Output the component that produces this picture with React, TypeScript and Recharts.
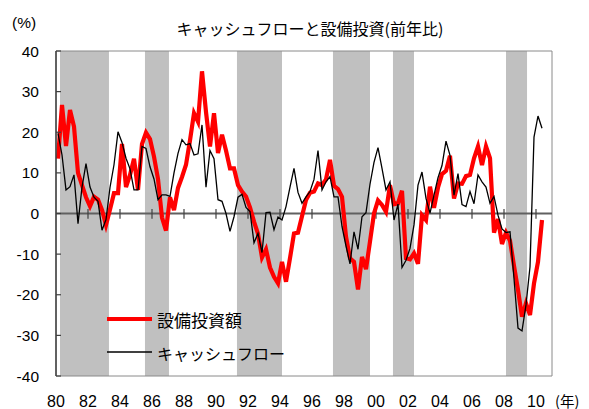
import React from "react";
import { LineChart, Line, XAxis, YAxis, ReferenceArea, ReferenceLine } from "recharts";

const startYear = 1980;

// 設備投資額 (前年比, %), quarterly from 1980Q1
const capex = [
  13.5, 26.7, 16.6, 25.5, 21.4, 10, 7, 4, 1.8, 4.1,
  3.4, 0.9, -2.8, 1, 5, 5, 17.1, 6.5, 9.5, 13.5,
  5.8, 17.1, 19.9, 18.3, 14, 8.5, -1, -4.2, 4, 0.8,
  6.3, 9, 12, 18, 24.7, 22.6, 35, 25, 16.5, 24.7,
  14.9, 19.4, 15.5, 11.1, 11.1, 7, 5.4, 4.2, 1.5, -2,
  -5, -10.8, -8.8, -13.3, -15.6, -17.2, -11.9, -16.8, -11, -4.9,
  -4.7, -0.7, 3.3, 5.1, 5.4, 7.4, 7, 8.4, 13.2, 6.8,
  6, 4.1, -5.7, -11, -11.9, -18.7, -10.7, -13.7, -6.9, 0,
  3.2, 2.1, 0.4, 7, 2.3, 2.5, 5.6, -11, -11.3, -9.8,
  -12.4, -0.4, -1.6, 6.6, 1.4, 6.4, 9.7, 10.5, 14.2, 3.7,
  7.4, 7.3, 9.2, 9.5, 13.6, 16.5, 11.9, 16.5, 13.6, -4.7,
  -1.4, -7.5, -4.7, -6.7, -12.9, -18.8, -25.4, -22.1, -25, -17.2,
  -11.9, -1.6,
];

// キャッシュフロー (前年比, %)
const cashflow = [
  19.7, 14.4, 5.8, 6.6, 9.5, -2.5, 6.5, 12.3, 6.5, 4,
  3, -4.1, -1.5, 6.4, 12, 20.1, 17.5, 13.6, 11, 5.8,
  5.8, 16.5, 16, 11.5, 8.5, 3.4, 4.6, 4.6, 4.2, 10,
  14.8, 18.2, 16.9, 17.2, 14.4, 14.7, 21.8, 6.5, 15.5, 13.5,
  3.4, 3, 0, -4.4, -0.8, 4, 4.7, 1.5, 0.5, -7.2,
  -4.9, -9.6, 0.2, 0.3, -4, -0.9, -1.6, 1.7, 6.5, 11.1,
  5.2, 2.5, 4.1, 5.4, 8.4, 15.5, 5.8, 7.8, 9.1, 4.1,
  4.1, -3.2, -8, -12.4, -4.5, -8.8, -0.8, 0.2, 7.2, 12.6,
  16.2, 11.1, 5.8, 7.8, -1.6, 2.3, -13.3, -11.5, -8.6, -2.8,
  7, 10.2, 3.7, 0.1, 4.5, 8.8, 11.8, 17.8, 14.3, 4.5,
  9.8, 2.2, 1.7, 5.4, 2.4, 9.5, 7.8, 6.5, 2.5, 4.2,
  -0.4, -3.8, -4.7, -4.5, -16, -28.2, -28.9, -22.5, -13.1, 18.8,
  24, 21,
];

const tickYears = [1980, 1982, 1984, 1986, 1988, 1990, 1992, 1994, 1996, 1998, 2000, 2002, 2004, 2006, 2008, 2010];
const yTicks = [-40, -30, -20, -10, 0, 10, 20, 30, 40];
const recessions: [number, number][] = [
  [1980.25, 1983.31],
  [1985.56, 1987.06],
  [1991.31, 1994.125],
  [1997.31, 1999.625],
  [2001.06, 2002.375],
  [2008.125, 2009.44],
];

const title = "キャッシュフローと設備投資(前年比)";
const legendCapex = "設備投資額";
const legendCash = "キャッシュフロー";

const data = capex.map((v, i) => ({
  x: startYear + i / 4 + 0.125,
  capex: v,
  cf: cashflow[i],
}));

const LATIN = "'Liberation Sans', Arial, sans-serif";
const CJK = "'Noto Sans CJK JP', 'Noto Sans', sans-serif";

const YTick = (props: any) => {
  const { x, y, payload } = props;
  return (
    <g>
      <text x={x} y={y} dy={5.5} textAnchor="end" fontSize={15.5} fontFamily={LATIN} fill="#000">
        {payload.value}
      </text>
      <line x1={x + 17} x2={x + 22} y1={y} y2={y} stroke="#404040" strokeWidth={1.2} />
    </g>
  );
};

const XTick = (props: any) => {
  const { x, y, payload } = props;
  const label = String(payload.value % 100).padStart(2, "0");
  return (
    <text x={x} y={y} dy={31} textAnchor="middle" fontSize={16} fontFamily={LATIN} fill="#000">
      {label}
    </text>
  );
};

export default function App() {
  return (
    <div style={{ position: "absolute", left: 0, top: 0, width: 589, height: 409, background: "#fff" }}>
      <LineChart
        width={589}
        height={409}
        data={data}
        margin={{ top: 51, right: 37, left: 0, bottom: 0 }}
      >
        <XAxis
          dataKey="x"
          type="number"
          domain={[1980, 2011]}
          ticks={tickYears}
          interval={0}
          height={33}
          axisLine={false}
          tickLine={false}
          tickSize={0}
          tickMargin={0}
          tick={<XTick />}
        />
        <YAxis
          type="number"
          domain={[-40, 40]}
          ticks={yTicks}
          interval={0}
          width={56}
          axisLine={{ stroke: "#404040", strokeWidth: 1.5 }}
          tickLine={false}
          tickSize={0}
          tickMargin={17}
          tick={<YTick />}
        />
        {recessions.map(([a, b], k) => (
          <ReferenceArea
            key={"r" + k}
            x1={a}
            x2={b}
            y1={-40}
            y2={40}
            fill="#C0C0C0"
            fillOpacity={1}
            stroke="none"
          />
        ))}
        <ReferenceArea x1={1980} x2={2011} y1={-40} y2={40} fill="none" stroke="#8a8a8a" strokeWidth={1} />
        <ReferenceLine y={0} stroke="#606060" strokeWidth={2} />
        {tickYears.slice(1).map((yr) => (
          <ReferenceLine
            key={"t" + yr}
            segment={[
              { x: yr, y: 1.1 },
              { x: yr, y: -1.3 },
            ]}
            stroke="#404040"
            strokeWidth={1.2}
          />
        ))}
        <Line
          type="linear"
          dataKey="capex"
          stroke="#FF0000"
          strokeWidth={4.2}
          dot={false}
          activeDot={false}
          isAnimationActive={false}
        />
        <Line
          type="linear"
          dataKey="cf"
          stroke="#000000"
          strokeWidth={1.3}
          dot={false}
          activeDot={false}
          isAnimationActive={false}
        />
      </LineChart>
      <svg
        width={589}
        height={409}
        style={{ position: "absolute", left: 0, top: 0, pointerEvents: "none" }}
      >
        <text x={310} y={28} dominantBaseline="central" textAnchor="middle" fontSize={16} fontFamily={CJK} fill="#000">
          {title}
        </text>
        <text x={12} y={22} dominantBaseline="central" fontSize={15.5} fontFamily={LATIN} fill="#000">
          (%)
        </text>
        <text x={555} y={400} dominantBaseline="central" fontSize={14.5} fontFamily={CJK} fill="#000">
          (年)
        </text>
        <line x1={107} x2={152} y1={319} y2={319} stroke="#FF0000" strokeWidth={4.2} />
        <text x={157} y={319.5} dominantBaseline="central" fontSize={17} fontFamily={CJK} fill="#000">
          {legendCapex}
        </text>
        <line x1={107} x2={152} y1={352} y2={352} stroke="#000" strokeWidth={1.3} />
        <text x={157} y={353} dominantBaseline="central" fontSize={16} fontFamily={CJK} fill="#000">
          {legendCash}
        </text>
      </svg>
    </div>
  );
}
